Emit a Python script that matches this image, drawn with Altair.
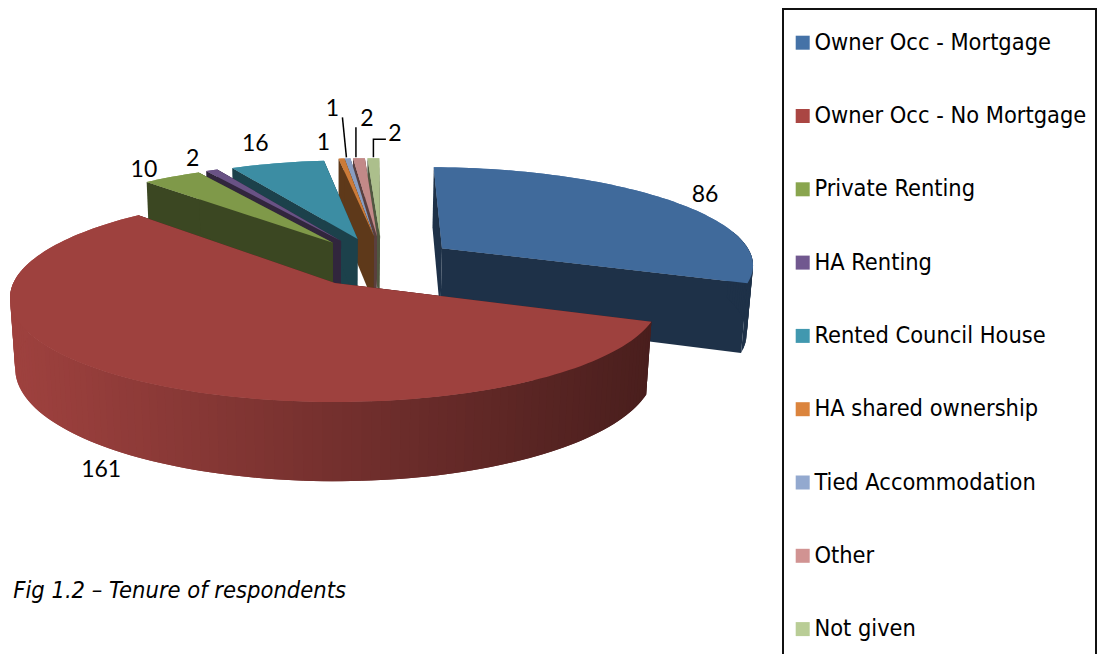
import math
import altair as alt

# ---- data ----
categories = ["Owner Occ - Mortgage", "Owner Occ - No Mortgage", "Private Renting", "HA Renting",
              "Rented Council House", "HA shared ownership", "Tied Accommodation", "Other", "Not given"]
values = [86, 161, 10, 2, 16, 1, 1, 2, 2]
palette = ["#4572A7", "#AA4643", "#89A54E", "#71588F", "#4198AF", "#DB843D", "#93A9CF", "#D19392", "#B9CD96"]
caption = ["Fig 1.2 \u2013 Tenure of respondents"]

# ---- styling / geometry ----
explode = [(.35, .36), (0, 0), (-.007, .42), (.02, .44), (.075, .46), (.13, .49), (.13, .49), (.14, .49), (.15, .49)]
label_nudge = [(35, -5), (-28, 92), (-28, -7), (-19, -11), (-22, -19), (-18, -16), (-15, -49), (8, -39), (21.5, -24)]
leaders = {6: True, 7: True, 8: True}
draw_order = [8, 7, 6, 5, 4, 3, 2, 0, 1]
START = 1.0
AX, AY, R, Q, K, H, M = 335, 283, 321.6, 101.8, .1443, 71, .016
PAGE = 8
PROJ = dict(type="identity", scale=1, translate=[0, 0])


def proj(X, Y, h=0):
    w = 1 + K * Y + M * h
    return [AX + R * X / w - PAGE, AY + (-Q * Y + H * h) / w - PAGE]


def rgb(c):
    return [int(c[i:i + 2], 16) for i in (1, 3, 5)]


def shade(c, f):
    return "#%02x%02x%02x" % tuple(int(round(v * f)) for v in rgb(c))


def feat(coords, fill, kind="Polygon", **extra):
    geometry = {"type": "Polygon", "coordinates": [coords + [coords[0]]]} if kind == "Polygon" else \
        {"type": "LineString", "coordinates": coords}
    return {"type": "Feature", "properties": {}, "geometry": geometry, "fill": fill, **extra}


total = sum(values)
starts, a = [], START
for v in values:
    starts.append(a)
    a += v * 360 / total


def rim(i, theta, h=0):
    t = math.radians(theta)
    ex, ey = explode[i]
    return proj(ex + math.sin(t), ey + math.cos(t), h)


def arc(i, h=0):
    a0, span = starts[i], values[i] * 360 / total
    n = max(2, int(span / 1.5))
    return [a0 + span * j / n for j in range(n + 1)]


faces, tops_legend = [], []
for i in range(len(values)):
    thetas = arc(i)
    apex = proj(*explode[i])
    poly = [apex] + [rim(i, t) for t in thetas]
    tops_legend.append(feat(poly, palette[i], category=categories[i]))

for i in draw_order:
    thetas = arc(i)
    ex, ey = explode[i]
    top_col = shade(palette[i], .93)
    wall = shade(palette[i], .43)
    apex, apex_b = proj(ex, ey), proj(ex, ey, 1)
    for t in (thetas[0], thetas[-1]):
        faces.append(feat([apex, rim(i, t), rim(i, t, 1), apex_b], wall))
    step = thetas[1] - thetas[0]
    for t0, t1 in zip(thetas[:-1], thetas[1:]):
        mid = math.radians((t0 + t1) / 2)
        if math.cos(mid) < .15:
            p = rim(i, (t0 + t1) / 2)
            frac = min(1, max(0, (p[0] + PAGE - 12) / 639))
            col = shade(palette[i], .93 - .5 * frac)
            t2 = max(thetas[0], t0 - step)
            faces.append(feat([rim(i, t2), rim(i, t1), rim(i, t1, 1), rim(i, t2, 1)], col))
    faces.append(feat([apex] + [rim(i, t) for t in thetas], top_col))

labels, lines = [], []
for i, v in enumerate(values):
    mid = starts[i] + v * 180 / total
    p = rim(i, mid)
    lx, ly = p[0] + label_nudge[i][0], p[1] + label_nudge[i][1]
    labels.append({"x": lx, "y": ly, "t": str(v)})
    if i in leaders:
        if i == 8:
            pts = [[p[0], p[1] - 1], [p[0], p[1] - 19], [lx - 9, p[1] - 19]]
        elif i == 7:
            pts = [[p[0] - 3, p[1] - 1], [p[0] - 3, ly + 8]]
        else:
            pts = [[p[0] - 1, p[1] - 1], [lx + 10, ly + 8]]
        lines.append(feat(pts, "none", kind="LineString"))

box_feature = [feat([[775, 1], [1088, 1], [1088, 680], [775, 680]], "none")]

legend = alt.Legend(orient="none", legendX=783, legendY=23, title=None, symbolType="square",
                    symbolSize=196, symbolStrokeWidth=0, labelFont="DejaVu Sans Condensed", labelFontSize=23.4,
                    labelOffset=0, labelColor="black", labelLimit=400, rowPadding=48.3, padding=0)

base = alt.Chart(alt.Data(values=tops_legend)).mark_geoshape(strokeWidth=0).encode(
    fill=alt.Fill("category:N", scale=alt.Scale(domain=categories, range=palette), sort=categories, legend=legend)
).project(**PROJ)

body = alt.Chart(alt.Data(values=faces)).mark_geoshape(strokeWidth=0).encode(
    fill=alt.Fill("fill:N", scale=None)
).project(**PROJ)

leader = alt.Chart(alt.Data(values=lines)).mark_geoshape(filled=False, stroke="black", strokeWidth=1.5).project(**PROJ)

box = alt.Chart(alt.Data(values=box_feature)).mark_geoshape(filled=False, stroke="#111111", strokeWidth=2).project(**PROJ)

text = alt.Chart(alt.Data(values=labels)).mark_text(font="Lato", fontSize=23, color="black").encode(
    x=alt.X("x:Q", scale=None), y=alt.Y("y:Q", scale=None), text="t:N"
)

cap = alt.Chart(alt.Data(values=[{"t": caption[0], "x": 338, "y": 583}])).mark_text(
    font="DejaVu Sans Condensed", fontSize=23.5, fontStyle="italic", align="right", color="black"
).encode(x=alt.X("x:Q", scale=None), y=alt.Y("y:Q", scale=None), text="t:N")

chart = alt.layer(box, base, body, leader, text, cap).resolve_scale(fill="independent").properties(
    width=1089, height=646, padding=0, autosize=alt.AutoSizeParams(type="none")
).configure_view(stroke=None)

chart.save("out.html", embed_options={"renderer": "svg", "actions": False})
